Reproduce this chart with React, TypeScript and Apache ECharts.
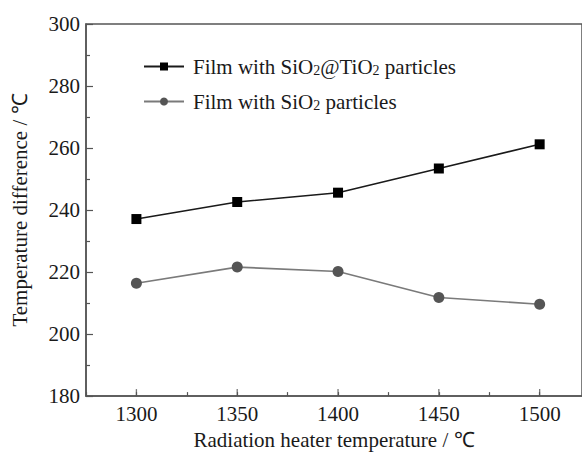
import React, { useEffect, useRef } from "react";
import * as echarts from "echarts";

const xValues = [1300, 1350, 1400, 1450, 1500];
const sio2tio2 = [237.1, 242.6, 245.6, 253.4, 261.2];
const sio2 = [216.4, 221.6, 220.2, 211.8, 209.6];
const seriesNames = ["Film with SiO{sub|2}@TiO{sub|2} particles", "Film with SiO{sub|2} particles"];

const FONT = "'Liberation Serif', 'Times New Roman', serif";
const TEXT = "#1a1a1a";
const AXIS = "#555";

export default function App() {
  const ref = useRef<HTMLDivElement>(null);
  useEffect(() => {
    document.body.style.margin = "0";
    const chart = echarts.init(ref.current!, null, { renderer: "svg" });
    const pair = (ys: number[]) => xValues.map((x, i) => [x, ys[i]]);
    chart.setOption({
      animation: false,
      grid: {
        left: 86,
        right: -1,
        top: 24,
        bottom: 54,
        show: true,
        borderColor: AXIS,
        borderWidth: 1.5,
        backgroundColor: "transparent",
      },
      legend: {
        orient: "vertical",
        left: 143,
        top: 56,
        padding: 0,
        itemWidth: 40,
        itemHeight: 10,
        itemGap: 14,
        textStyle: {
          fontFamily: FONT,
          fontSize: 21,
          color: TEXT,
          lineHeight: 21,
          padding: [0, 0, 0, 4],
          rich: {
            sub: { fontFamily: FONT, fontSize: 14, color: TEXT, verticalAlign: "bottom", lineHeight: 12 },
          },
        },
        data: seriesNames,
      },
      xAxis: {
        type: "value",
        min: 1275,
        max: 1521,
        interval: 25,
        name: "Radiation heater temperature / ℃",
        nameLocation: "middle",
        nameGap: 32,
        nameTextStyle: { fontFamily: FONT, fontSize: 21, color: TEXT },
        axisLine: { show: true, lineStyle: { color: AXIS, width: 1.5 } },
        axisTick: { show: true, inside: true, length: 4, lineStyle: { color: AXIS, width: 1.2 } },
        axisLabel: {
          show: true,
          margin: 7,
          fontFamily: FONT,
          fontSize: 21,
          color: TEXT,
          customValues: xValues,
          formatter: (v: number) => (v % 50 === 0 ? String(v) : ""),
        },
        splitLine: { show: false },
      },
      yAxis: {
        type: "value",
        min: 180,
        max: 300,
        interval: 20,
        name: "Temperature difference / ℃",
        nameLocation: "middle",
        nameGap: 56,
        nameTextStyle: { fontFamily: FONT, fontSize: 21, color: TEXT },
        axisLine: { show: true, lineStyle: { color: AXIS, width: 1.5 } },
        axisTick: { show: true, inside: true, length: 7, lineStyle: { color: AXIS, width: 1.2 } },
        minorTick: { show: true, splitNumber: 2, length: 4, lineStyle: { color: AXIS, width: 1.2 } },
        axisLabel: { margin: 6, fontFamily: FONT, fontSize: 21, color: TEXT },
        splitLine: { show: false },
      },
      series: [
        {
          name: "majorTicks",
          type: "scatter",
          silent: true,
          data: xValues.map((x) => [x, 180]),
          symbol: "rect",
          symbolSize: [1.3, 7],
          symbolOffset: [0, -3.5],
          itemStyle: { color: AXIS },
          z: 1,
        },
        {
          name: seriesNames[0],
          type: "line",
          data: pair(sio2tio2),
          symbol: "rect",
          symbolSize: 10,
          lineStyle: { color: "#1a1a1a", width: 1.6 },
          itemStyle: { color: "#000" },
          z: 3,
        },
        {
          name: seriesNames[1],
          type: "line",
          data: pair(sio2),
          symbol: "circle",
          symbolSize: 11,
          lineStyle: { color: "#7a7a7a", width: 1.6 },
          itemStyle: { color: "#555" },
          z: 3,
        },
      ],
    });
    return () => chart.dispose();
  }, []);
  return <div ref={ref} style={{ width: 582, height: 455 }} />;
}
